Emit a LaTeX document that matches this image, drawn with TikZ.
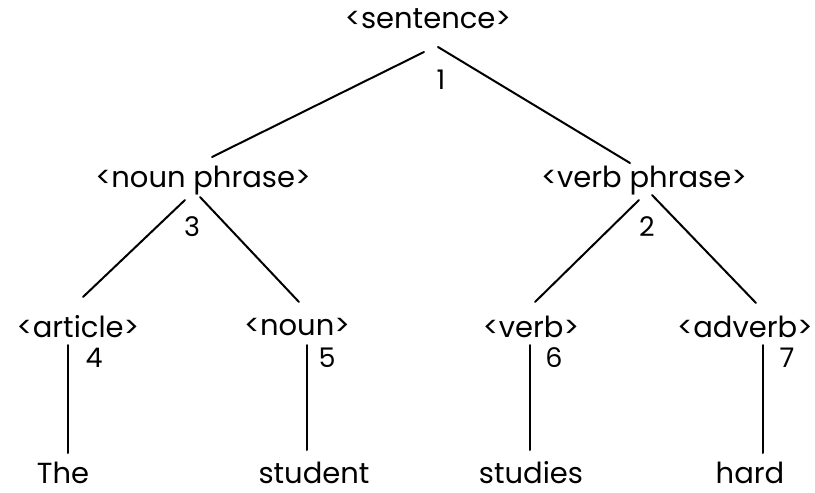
\documentclass[tikz,border=0pt]{standalone}
\usepackage{fontspec}
\setmainfont{Poppins}
\begin{document}
\begin{tikzpicture}[x=1pt,y=-1pt,
  lbl/.style={inner sep=0pt,font=\fontsize{29}{32}\selectfont},
  word/.style={inner sep=0pt,anchor=base,font=\fontsize{29}{32}\selectfont},
  num/.style={inner sep=0pt,font=\fontsize{27}{30}\selectfont},
  edge/.style={line width=2pt,line cap=round}]
\useasboundingbox (0,0) rectangle (815,493);
% labels
\node[lbl] (s)  at (428,19)  {<sentence>};
\node[lbl] (np) at (203,181) {<noun phrase>};
\node[lbl] (vp) at (644,181) {<verb phrase>};
\node[lbl] (art) at (78,327) {<article>};
\node[lbl] (n)  at (297,327) {<noun>};
\node[lbl] (v)  at (531,327) {<verb>};
\node[lbl] (adv) at (745,327) {<adverb>};
\node[word] (w1) at (63,483) {The};
\node[word] (w2) at (314,483) {student};
\node[word] (w3) at (531,483) {studies};
\node[word] (w4) at (750,483) {hard};
% numbers
\node[num] (n1) at (441,80) {1};
\node[num] (n3) at (192,227) {3};
\node[num] (n2) at (647,227) {2};
\node[num] (n4) at (94,358) {4};
\node[num] (n5) at (327,358) {5};
\node[num] (n6) at (554,358) {6};
\node[num] (n7) at (787,358) {7};
% connector end points
\coordinate (s-l) at (424,52);
\coordinate (s-r) at (438,47);
\coordinate (np-t) at (212,157);
\coordinate (vp-t) at (630,163);
\coordinate (np-l) at (185,200);
\coordinate (np-r) at (200,197);
\coordinate (vp-l) at (639,200);
\coordinate (vp-r) at (652,195);
\coordinate (art-t) at (83,297);
\coordinate (n-t) at (299,302);
\coordinate (v-t) at (535,302);
\coordinate (adv-t) at (756,303);
\coordinate (art-b) at (68,345);
\coordinate (n-b) at (307,345);
\coordinate (v-b) at (530,345);
\coordinate (adv-b) at (763,345);
\coordinate (w1-t) at (68,453);
\coordinate (w2-t) at (307,450);
\coordinate (w3-t) at (530,450);
\coordinate (w4-t) at (763,453);
% connectors
\draw[edge] (s-l) -- (np-t);
\draw[edge] (s-r) -- (vp-t);
\draw[edge] (np-l) -- (art-t);
\draw[edge] (np-r) -- (n-t);
\draw[edge] (vp-l) -- (v-t);
\draw[edge] (vp-r) -- (adv-t);
\draw[edge] (art-b) -- (w1-t);
\draw[edge] (n-b) -- (w2-t);
\draw[edge] (v-b) -- (w3-t);
\draw[edge] (adv-b) -- (w4-t);
\end{tikzpicture}
\end{document}
